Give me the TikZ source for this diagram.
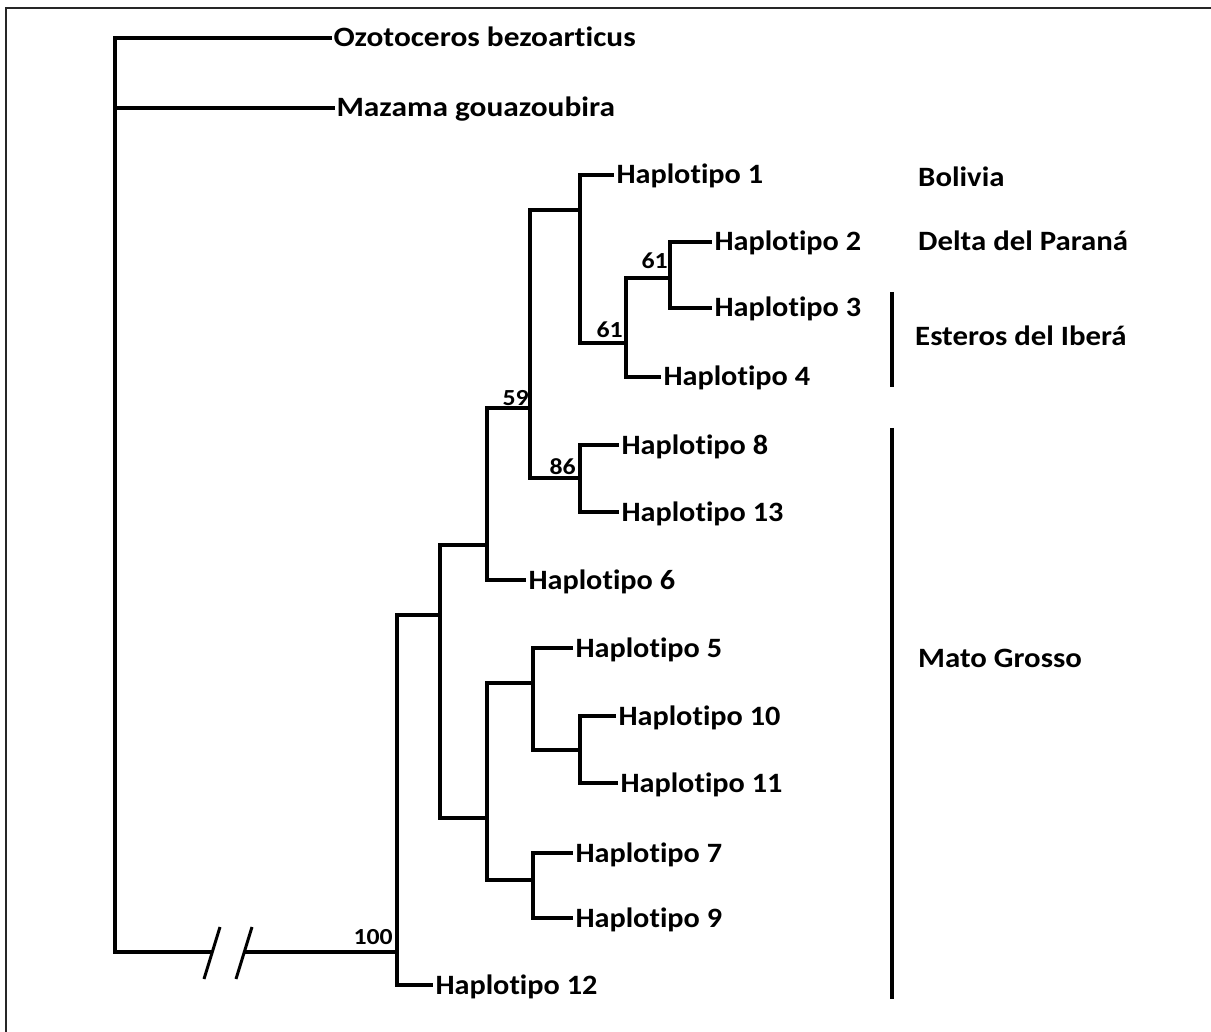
\documentclass[tikz,border=0pt]{standalone}
\usepackage{fontspec}
\setmainfont{Carlito}[Ligatures={NoCommon}]
\begin{document}
\begin{tikzpicture}[x=1pt,y=-1pt,
  br/.style={line width=3.2pt,line cap=rect},
  leaf/.style={anchor=base west,inner sep=0pt,font=\fontsize{28}{30}\selectfont\bfseries,xscale=1.08,xshift=4pt},
  outg/.style={anchor=base west,inner sep=0pt,font=\fontsize{28}{30}\selectfont\bfseries,xscale=1.12,xshift=3pt},
  boot/.style={anchor=base east,inner sep=0pt,font=\fontsize{23}{25}\selectfont\bfseries,xscale=1.12},
  region/.style={anchor=base west,inner sep=0pt,font=\fontsize{28}{30}\selectfont\bfseries,xscale=1.1},
  bar/.style={line width=3.2pt}]
\useasboundingbox (0,0) rectangle (1211,1032);
% frame
\draw[line width=2pt,black!85] (6,1032) -- (6,8) -- (1211,8);
% coordinates of leaf line ends
\coordinate (ozo) at (330,38);
\coordinate (maz) at (333,108);
\coordinate (h1) at (612,175);
\coordinate (h2) at (710,242);
\coordinate (h3) at (710,308);
\coordinate (h4) at (659,377);
\coordinate (h8) at (617,445);
\coordinate (h13) at (617,512);
\coordinate (h6) at (524,580);
\coordinate (h5) at (571,648);
\coordinate (h10) at (614,716);
\coordinate (h11) at (616,783);
\coordinate (h7) at (571,853);
\coordinate (h9) at (571,918);
\coordinate (h12) at (431,985);
% leaf labels
\node[outg] (tozo) at ([yshift=-9pt]ozo) {Ozotoceros bezoarticus};
\node[outg] (tmaz) at ([yshift=-9pt]maz) {Mazama gouazoubira};
\node[leaf] (th1) at ([yshift=-9pt]h1) {Haplotipo 1};
\node[leaf] (th2) at ([yshift=-9pt]h2) {Haplotipo 2};
\node[leaf] (th3) at ([yshift=-9pt]h3) {Haplotipo 3};
\node[leaf] (th4) at ([yshift=-9pt]h4) {Haplotipo 4};
\node[leaf] (th8) at ([yshift=-9pt]h8) {Haplotipo 8};
\node[leaf] (th13) at ([yshift=-9pt]h13) {Haplotipo 13};
\node[leaf] (th6) at ([yshift=-9pt]h6) {Haplotipo 6};
\node[leaf] (th5) at ([yshift=-9pt]h5) {Haplotipo 5};
\node[leaf] (th10) at ([yshift=-9pt]h10) {Haplotipo 10};
\node[leaf] (th11) at ([yshift=-9pt]h11) {Haplotipo 11};
\node[leaf] (th7) at ([yshift=-9pt]h7) {Haplotipo 7};
\node[leaf] (th9) at ([yshift=-9pt]h9) {Haplotipo 9};
\node[leaf] (th12) at ([yshift=-9pt]h12) {Haplotipo 12};
% internal nodes (x, top y, bottom y)
\coordinate (rT) at (115,38);  \coordinate (rB) at (115,952);
\coordinate (aT) at (397,615); \coordinate (aB) at (397,985);
\coordinate (bT) at (440,545); \coordinate (bB) at (440,818);
\coordinate (cT) at (487,408); \coordinate (cB) at (487,580);
\coordinate (dT) at (530,210); \coordinate (dB) at (530,478);
\coordinate (eT) at (580,175); \coordinate (eB) at (580,343);
\coordinate (fT) at (626,278); \coordinate (fB) at (626,377);
\coordinate (gT) at (670,242); \coordinate (gB) at (670,308);
\coordinate (hT) at (580,445); \coordinate (hB) at (580,512);
\coordinate (iT) at (487,683); \coordinate (iB) at (487,880);
\coordinate (jT) at (533,648); \coordinate (jB) at (533,750);
\coordinate (kT) at (580,716); \coordinate (kB) at (580,783);
\coordinate (lT) at (533,853); \coordinate (lB) at (533,918);
% root
\draw[br] (ozo) -| (rB);
\draw[br] (rT |- maz) -- (maz);
\coordinate (brk1) at (212,952);
\coordinate (brk2) at (244,952);
\draw[br,line cap=butt] (rB) -- (brk1);
\draw[br,line cap=butt] (brk2) -- (aT |- rB);
\draw[line width=3pt] (204,979) -- (220,927);
\draw[line width=3pt] (236,979) -- (252,927);
% clade A (node 100)
\draw[br] (aT) -- (aB) -- (h12);
\draw[br] (aT) -- (aT -| bT);
% node B
\draw[br] (bT -| cT) -- (bT) -- (bB) -- (bB -| iT);
% node C (59 clade + Haplotipo 6)
\draw[br] (cT -| dT) -- (cT) -- (cB) -- (h6);
% node D (59)
\draw[br] (dT -| eT) -- (dT) -- (dB) -- (dB -| hT);
% node E
\draw[br] (h1) -- (eT) -- (eB) -- (eB -| fT);
% node F (61)
\draw[br] (fT -| gT) -- (fT) -- (fB) -- (h4);
% node G (61)
\draw[br] (h2) -- (gT) -- (gB) -- (h3);
% node H (86)
\draw[br] (h8) -- (hT) -- (hB) -- (h13);
% node I
\draw[br] (iT -| jT) -- (iT) -- (iB) -- (iB -| lT);
% node J
\draw[br] (h5) -- (jT) -- (jB) -- (jB -| kT);
% node K
\draw[br] (h10) -- (kT) -- (kB) -- (h11);
% node L
\draw[br] (h7) -- (lT) -- (lB) -- (h9);
% bootstrap values
\node[boot] (b61a) at (668,269) {61};
\node[boot] (b61b) at (623,338) {61};
\node[boot] (b59) at (529,406) {59};
\node[boot] (b86) at (576,475) {86};
\node[boot] (b100) at (393,944) {100};
% regions
\node[region] (bol) at (918,187) {Bolivia};
\node[region] (del) at (918,251) {Delta del Paraná};
\node[region] (est) at (915,346) {Esteros del Iberá};
\node[region] (mat) at (918,667) {Mato Grosso};
\coordinate (e1) at (892,292); \coordinate (e2) at (892,387);
\coordinate (m1) at (892,428); \coordinate (m2) at (892,999);
\draw[bar] (e1) -- (e2);
\draw[bar] (m1) -- (m2);
\end{tikzpicture}
\end{document}
